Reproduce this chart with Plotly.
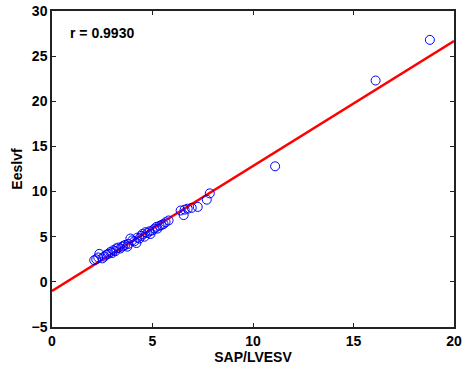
import plotly.graph_objects as go

x_vals = [2.1, 2.2, 2.3, 2.35, 2.5, 2.6, 2.7, 2.8, 2.9, 3.0, 3.05, 3.15, 3.2, 3.3, 3.4, 3.5, 3.55,
          3.65, 3.75, 3.8, 3.9, 4.0, 4.1, 4.2, 4.25, 4.35, 4.45, 4.5, 4.6, 4.65, 4.75, 4.85, 4.9,
          5.0, 5.1, 5.2, 5.25, 5.35, 5.45, 5.55, 5.65, 5.8, 6.4, 6.55, 6.6, 6.75, 6.95, 7.25,
          7.7, 7.85, 11.1, 16.1, 18.8]
y_vals = [2.4, 2.5, 2.7, 3.1, 2.6, 2.8, 3.0, 3.1, 3.3, 3.2, 3.5, 3.4, 3.7, 3.8, 3.7, 3.9, 4.0,
          4.1, 3.9, 4.2, 4.8, 4.6, 4.5, 4.3, 4.9, 4.8, 5.1, 5.3, 5.0, 5.5, 5.4, 5.6, 5.3,
          5.7, 5.9, 6.1, 5.9, 6.2, 6.3, 6.4, 6.6, 6.8, 7.9, 7.4, 8.0, 8.1, 8.2, 8.3,
          9.1, 9.8, 12.8, 22.3, 26.8]
fit_slope = 1.384
fit_intercept = -1.0
fit_x = [0, 20]
r_text = "r = 0.9930"

fit_y = [fit_slope * v + fit_intercept for v in fit_x]

fig = go.Figure()
fig.add_trace(go.Scatter(x=fit_x, y=fit_y, mode="lines",
                         line=dict(color="#ff0000", width=2.5), showlegend=False))
fig.add_trace(go.Scatter(x=x_vals, y=y_vals, mode="markers",
                         marker=dict(symbol="circle-open", size=9, color="#0000ff",
                                     line=dict(width=1, color="#0000ff")),
                         showlegend=False))

font = dict(family="Liberation Sans, Arial, sans-serif", size=14, color="black")
axis_common = dict(showgrid=False, zeroline=False, showline=True, linecolor="#222222",
                   linewidth=1.5, mirror="ticks", ticks="inside", ticklen=4,
                   tickcolor="#222222", automargin=False,
                   tickfont=dict(family="Liberation Sans, Arial", size=14,
                                 color="black", weight="bold"))
fig.update_layout(
    width=465, height=371,
    margin=dict(l=52, r=11, t=11, b=44),
    paper_bgcolor="white", plot_bgcolor="white",
    font=font,
    xaxis=dict(range=[0, 20], tickvals=[0, 5, 10, 15, 20],
               title=dict(text="<b>SAP/LVESV</b>", font=dict(size=14), standoff=2),
               **axis_common),
    yaxis=dict(range=[-5, 30], tickvals=[-5, 0, 5, 10, 15, 20, 25, 30],
               ticktext=["\u22125", "0", "5", "10", "15", "20", "25", "30"],
               title=dict(text="<b>Eeslvf</b>", font=dict(size=14), standoff=6),
               **axis_common),
    annotations=[dict(x=0.8, y=27.6, xref="x", yref="y", text="<b>" + r_text + "</b>",
                      showarrow=False, xanchor="left", yanchor="middle",
                      font=dict(size=14, color="black"))],
)
fig.write_html("out.html", config={"displayModeBar": False},
               post_script="document.body.style.margin='0';document.body.style.overflow='hidden';")
